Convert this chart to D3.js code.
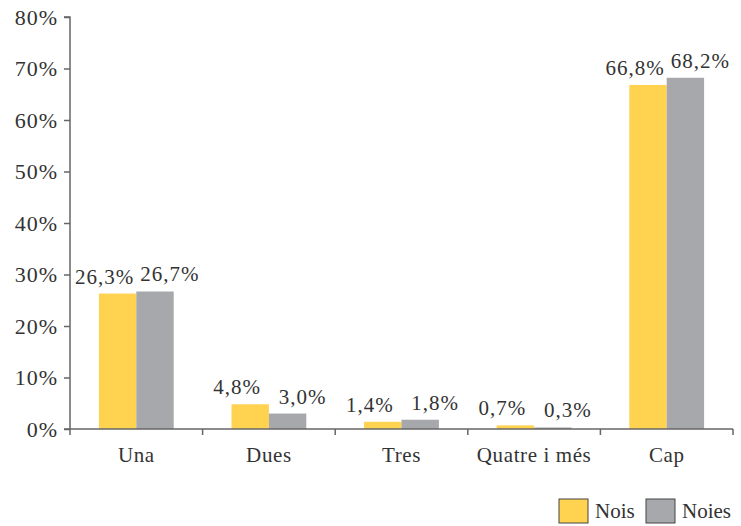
<!DOCTYPE html>
<html><head><meta charset="utf-8">
<script src="https://cdn.jsdelivr.net/npm/d3@7"></script>
<style>html,body{margin:0;padding:0;background:#fff;}svg{display:block;}</style>
</head><body>
<svg id="chart" width="741" height="526"></svg>
<script>
const categories = ["Una", "Dues", "Tres", "Quatre i més", "Cap"];
const seriesNames = ["Nois", "Noies"];
const nois = [26.3, 4.8, 1.4, 0.7, 66.8];
const noies = [26.7, 3.0, 1.8, 0.3, 68.2];
const yTicks = [0, 10, 20, 30, 40, 50, 60, 70, 80];

const colors = {Nois: "#FFD24F", Noies: "#A7A8AC"};
const labelShift = {Nois: -13, Noies: 15};
const font = "'Liberation Serif', serif";
const textColor = "#333";
const axisColor = "#666";

const svg = d3.select("#chart");
const x0 = 70, x1 = 733, y0 = 429, y1 = 17;

const x = d3.scaleBand().domain(categories).range([x0, x1]).paddingInner(0.436).paddingOuter(0.218);
const xs = d3.scaleBand().domain(seriesNames).range([0, x.bandwidth()]);
const y = d3.scaleLinear().domain([0, 80]).range([y0, y1]);

const fmt = v => v.toFixed(1).replace(".", ",") + "%";

const data = categories.map((c, i) => ({cat: c, vals: [
  {s: "Nois", v: nois[i]}, {s: "Noies", v: noies[i]}
]}));

// bars
const g = svg.append("g");
const groups = g.selectAll("g.grp").data(data).join("g")
  .attr("transform", d => `translate(${x(d.cat)},0)`);
groups.selectAll("rect").data(d => d.vals).join("rect")
  .attr("x", d => xs(d.s))
  .attr("width", xs.bandwidth())
  .attr("y", d => y(d.v))
  .attr("height", d => y0 - y(d.v))
  .attr("fill", d => colors[d.s]);
groups.selectAll("text").data(d => d.vals).join("text")
  .attr("x", d => xs(d.s) + xs.bandwidth() / 2 + labelShift[d.s])
  .attr("y", d => y(d.v) - 10)
  .attr("text-anchor", "middle")
  .attr("font-family", font).attr("font-size", 21).attr("letter-spacing", 1).attr("fill", textColor)
  .text(d => fmt(d.v));

// y axis
const yAxis = d3.axisLeft(y).tickValues(yTicks).tickSize(6).tickPadding(6).tickFormat(d => d + "%");
const ya = svg.append("g").attr("transform", `translate(${x0},0)`).call(yAxis);
ya.select(".domain").attr("stroke", axisColor).attr("stroke-width", 1.5).attr("d", `M-6,${y1}H0V${y0}H-6`);
ya.selectAll(".tick line").attr("stroke", axisColor).attr("stroke-width", 1.5);
ya.selectAll(".tick text").attr("font-family", font).attr("font-size", 22).attr("letter-spacing", 1).attr("fill", textColor);

// x axis
const xAxis = d3.axisBottom(x).tickSize(0).tickPadding(0);
const xa = svg.append("g").attr("transform", `translate(0,${y0})`).call(xAxis);
xa.select(".domain").attr("stroke", axisColor).attr("stroke-width", 1.5).attr("d", `M${x0},0H${x1}`);
xa.selectAll(".tick text").attr("font-family", font).attr("font-size", 21).attr("letter-spacing", 0.6).attr("fill", textColor)
  .attr("dy", null).attr("y", 33);
// category boundary ticks
const bounds = categories.map(c => x(c) - x.step() * x.paddingInner() / 2).concat([x1]);
svg.append("g").selectAll("line").data(bounds).join("line")
  .attr("x1", d => d).attr("x2", d => d)
  .attr("y1", y0).attr("y2", y0 + 6)
  .attr("stroke", axisColor).attr("stroke-width", 1.5);

// legend
const leg = svg.append("g");
const legX = [559, 646];
seriesNames.forEach((s, i) => {
  leg.append("rect").attr("x", legX[i]).attr("y", 499).attr("width", 29).attr("height", 24)
    .attr("fill", colors[s]).attr("stroke", "#444").attr("stroke-width", 1);
  leg.append("text").attr("x", legX[i] + 36).attr("y", 518)
    .attr("font-family", font).attr("font-size", 21).attr("fill", textColor).text(s);
});
</script>
</body></html>
